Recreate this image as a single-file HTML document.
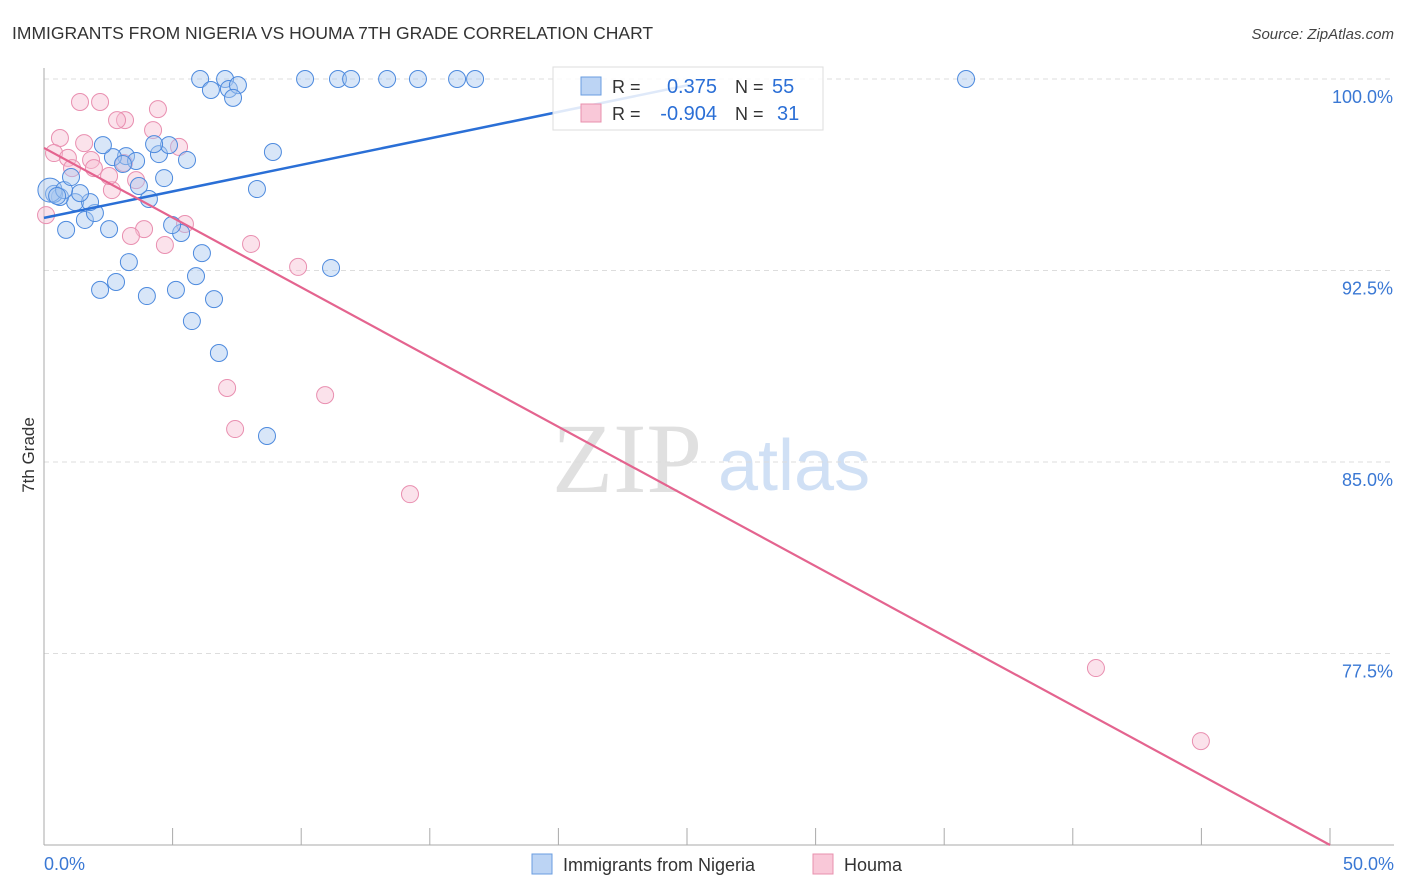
<!DOCTYPE html>
<html><head><meta charset="utf-8"><style>
body{margin:0;background:#fff;font-family:"Liberation Sans",sans-serif;}
svg{display:block}
</style></head><body>
<svg id="chart" width="1406" height="892" xmlns="http://www.w3.org/2000/svg">
<text x="12" y="39" font-size="17.5" fill="#333">IMMIGRANTS FROM NIGERIA VS HOUMA 7TH GRADE CORRELATION CHART</text>
<text x="1394" y="39" font-size="15" fill="#444" font-style="italic" text-anchor="end">Source: ZipAtlas.com</text>
<g>
<text x="552" y="492" font-size="100" font-family="Liberation Serif,serif" fill="#e0e0e0">ZIP</text>
<text x="718" y="490" font-size="72" fill="#d0e0f5">atlas</text>
</g>
<g id="grid"></g>
<g id="points"></g>
<g id="lines"></g>
<g>
<rect x="553" y="67" width="270" height="63" fill="#fff" fill-opacity="0.85" stroke="#ddd"/>
<rect x="581" y="77" width="20" height="18" fill="#bcd4f4" stroke="#6a9de0"/>
<rect x="581" y="104" width="20" height="18" fill="#f9c8d8" stroke="#e890ae"/>
<text x="612" y="93" font-size="18" fill="#333">R = </text><text x="717" y="93" font-size="20" fill="#2b6fd6" text-anchor="end">0.375</text>
<text x="735" y="93" font-size="18" fill="#333">N = </text><text x="772" y="93" font-size="20" fill="#2b6fd6">55</text>
<text x="612" y="120" font-size="18" fill="#333">R = </text><text x="717" y="120" font-size="20" fill="#2b6fd6" text-anchor="end">-0.904</text>
<text x="735" y="120" font-size="18" fill="#333">N = </text><text x="777" y="120" font-size="20" fill="#2b6fd6">31</text>
</g>
<text transform="translate(34,455) rotate(-90)" font-size="17" fill="#333" text-anchor="middle">7th Grade</text>
<g>
<rect x="532" y="854" width="20" height="20" fill="#bcd4f4" stroke="#6a9de0"/>
<text x="563" y="871" font-size="18" fill="#333">Immigrants from Nigeria</text>
<rect x="813" y="854" width="20" height="20" fill="#f9c8d8" stroke="#e890ae"/>
<text x="844" y="871" font-size="18" fill="#333">Houma</text>
</g>
</svg>
<script>
const blueX=[6.07,7.04,10.15,11.43,11.94,13.34,14.54,16.06,16.76,35.85,6.49,7.19,7.54,7.35,8.90,8.28,11.16,8.67,6.80,5.75,6.61,5.13,4.00,2.18,2.80,3.30,5.91,6.14,5.33,4.98,2.53,0.86,1.59,1.98,1.21,1.79,0.62,1.40,0.39,0.23,0.78,4.08,4.67,3.69,5.56,4.47,4.86,4.28,3.19,2.68,3.58,3.07,2.29,1.05,0.51];
const blueY=[100,100,100,100,100,100,100,100,100,100,99.57,99.61,99.76,99.26,97.14,95.69,92.60,86.02,89.27,90.52,91.38,91.74,91.50,91.74,92.05,92.83,92.28,93.18,93.97,94.28,94.12,94.09,94.48,94.75,95.18,95.18,95.38,95.53,95.50,95.65,95.65,95.30,96.12,95.81,96.83,97.06,97.41,97.45,96.98,96.94,96.79,96.67,97.41,96.16,95.42];
const pinkX=[1.40,2.18,4.43,3.15,2.84,4.24,0.62,1.56,5.25,0.39,0.93,1.83,1.09,1.94,3.11,3.58,2.64,0.08,5.48,3.89,3.38,4.70,8.05,9.88,7.12,7.43,10.93,14.23,40.90,44.98,2.53];
const pinkY=[99.10,99.10,98.82,98.39,98.39,98.00,97.69,97.49,97.34,97.10,96.91,96.83,96.51,96.51,96.71,96.04,95.65,94.67,94.32,94.12,93.85,93.50,93.54,92.64,87.90,86.29,87.62,83.74,76.93,74.07,96.20];
const yTicks=[100,92.5,85,77.5];
const yTickLabels=["100.0%","92.5%","85.0%","77.5%"];
const blueTrend=[[0,94.56],[25.1,99.77]];
const pinkTrend=[[0,97.3],[50,70.0]];
const NS="http://www.w3.org/2000/svg";
const X=v=>44+v/50*1286, Y=v=>79+(100-v)*191.5/7.5;
function mk(p,t,a){const e=document.createElementNS(NS,t);for(const k in a)e.setAttribute(k,a[k]);p.appendChild(e);return e;}
const grid=document.getElementById('grid');
yTicks.forEach((t,i)=>{
 const l=mk(grid,'line',{x1:44,x2:1394,y1:Y(t),y2:Y(t),stroke:'#ddd','stroke-dasharray':'5,4'});
 
 
 const tx=mk(grid,'text',{x:1393,y:Y(t)+24,'font-size':18,fill:'#3a78d4','text-anchor':'end'});
 tx.textContent=yTickLabels[i];
 
 
});
const ax=mk(grid,'line',{x1:44,x2:44,y1:68,y2:845,stroke:'#aaa'});


const bx=mk(grid,'line',{x1:44,x2:1394,y1:845,y2:845,stroke:'#aaa'});


for(let i=1;i<=10;i++){const tk=mk(grid,'line',{x1:X(i*5),x2:X(i*5),y1:828,y2:845,stroke:'#aaa'});
 
 }
[["0.0%",44,'start'],["50.0%",1394,'end']].forEach(d=>{const t=mk(grid,'text',{x:d[1],y:870,'font-size':18,fill:'#3a78d4','text-anchor':d[2]});t.textContent=d[0];
 
 });
const pts=document.getElementById('points');
pinkX.forEach((v,i)=>{const c=mk(pts,'circle',{cx:X(v),cy:Y(pinkY[i]),r:8.5,fill:'#f7bfd2','fill-opacity':0.45,stroke:'#e98fb0','stroke-width':1});
 
 });
blueX.forEach((v,i)=>{const c=mk(pts,'circle',{cx:X(v),cy:Y(blueY[i]),r:i==39?12:8.5,fill:'#a9c8f0','fill-opacity':0.45,stroke:'#4d8ade','stroke-width':1});
 
 });
const ln=document.getElementById('lines');
const b=mk(ln,'line',{x1:X(blueTrend[0][0]),y1:Y(blueTrend[0][1]),x2:X(blueTrend[1][0]),y2:Y(blueTrend[1][1]),stroke:'#2a6fd6','stroke-width':2.5});


const p=mk(ln,'line',{x1:X(pinkTrend[0][0]),y1:Y(pinkTrend[0][1]),x2:X(pinkTrend[1][0]),y2:Y(pinkTrend[1][1]),stroke:'#e4648f','stroke-width':2.2});


</script>
</body></html>
